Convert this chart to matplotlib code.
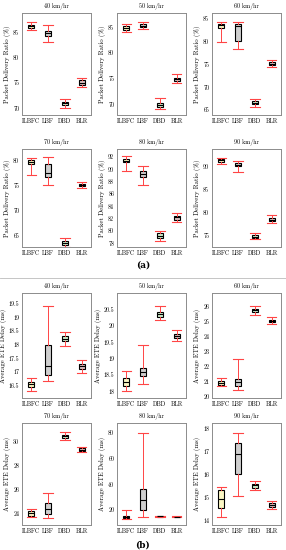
import numpy as np
import matplotlib
matplotlib.use('Agg')
import matplotlib.pyplot as plt
from matplotlib.lines import Line2D

plt.rcParams['font.family'] = ['cmr10', 'DejaVu Serif']
plt.rcParams['axes.formatter.use_mathtext'] = True
plt.rcParams['mathtext.fontset'] = 'cm'

protocols = ['ILBFC', 'LBF', 'DBD', 'BLR']
speeds = ['40 km/hr', '50 km/hr', '60 km/hr', '70 km/hr', '80 km/hr', '90 km/hr']

# packet delivery ratio (%) : [whislo, q1, med, q3, whishi] per protocol
pdr_40 = [[85.4, 85.9, 86.2, 86.5, 87.0], [83.1, 84.2, 84.8, 85.2, 86.4],
          [70.0, 70.6, 71.0, 71.3, 71.8], [74.2, 74.6, 75.0, 75.5, 75.9]]
pdr_50 = [[84.0, 84.5, 84.9, 85.3, 85.7], [84.6, 85.0, 85.3, 85.6, 86.1],
          [69.0, 69.5, 69.9, 70.3, 71.3], [74.2, 74.6, 74.9, 75.2, 75.9]]
pdr_60 = [[79.8, 83.0, 83.5, 83.7, 84.3], [78.3, 80.0, 83.4, 83.7, 84.3],
          [65.7, 66.2, 66.6, 66.9, 67.5], [74.3, 74.8, 75.1, 75.5, 75.9]]
pdr_70 = [[77.2, 79.3, 79.8, 80.1, 80.5], [75.1, 76.7, 77.6, 79.3, 80.7],
          [62.5, 63.1, 63.5, 63.8, 64.5], [74.6, 74.9, 75.2, 75.4, 75.7]]
pdr_80 = [[89.8, 91.2, 91.4, 91.6, 92.1], [87.5, 88.8, 89.3, 89.7, 90.6],
          [78.3, 78.9, 79.2, 79.6, 80.0], [81.4, 81.8, 82.2, 82.4, 82.9]]
pdr_90 = [[90.6, 91.1, 91.5, 91.7, 92.0], [89.0, 90.1, 90.5, 90.9, 91.2],
          [74.3, 74.5, 74.8, 75.1, 75.7], [77.8, 78.2, 78.5, 78.9, 79.5]]

# average ETE delay (ms)
ete_40 = [[16.32, 16.46, 16.55, 16.64, 16.78], [16.66, 16.90, 17.22, 18.00, 19.40],
          [17.93, 18.12, 18.22, 18.32, 18.44], [16.98, 17.12, 17.22, 17.30, 17.45]]
ete_50 = [[18.00, 18.18, 18.30, 18.42, 18.63], [18.23, 18.47, 18.58, 18.70, 19.43],
          [20.18, 20.28, 20.36, 20.43, 20.60], [19.53, 19.63, 19.70, 19.75, 19.88]]
ete_60 = [[20.68, 20.78, 20.88, 21.00, 21.20], [20.45, 20.72, 20.98, 21.15, 22.52],
          [25.43, 25.60, 25.71, 25.82, 26.04], [24.82, 24.93, 25.04, 25.10, 25.26]]
ete_70 = [[23.70, 23.77, 24.00, 24.20, 24.34], [23.58, 23.94, 24.34, 24.85, 25.70],
          [30.14, 30.34, 30.48, 30.62, 30.82], [29.18, 29.27, 29.35, 29.50, 29.58]]
ete_80 = [[13.3, 14.0, 14.5, 15.0, 20.0], [14.8, 20.0, 27.8, 36.2, 80.0],
          [14.5, 14.7, 15.0, 15.2, 15.3], [14.3, 14.5, 14.7, 14.9, 15.1]]
ete_90 = [[14.18, 14.57, 14.94, 15.33, 15.47], [15.10, 16.04, 16.90, 17.38, 17.82],
          [15.33, 15.44, 15.54, 15.62, 15.72], [14.52, 14.61, 14.68, 14.76, 14.86]]

pdr_data = [pdr_40, pdr_50, pdr_60, pdr_70, pdr_80, pdr_90]
ete_data = [ete_40, ete_50, ete_60, ete_70, ete_80, ete_90]

pdr_ylim = [(68.7, 88.8), (67.9, 87.8), (63.9, 86.2), (62.6, 82.4), (77.4, 93.3), (72.6, 93.9)]
pdr_ticks = [[70, 75, 80, 85], [70, 75, 80, 85], [65, 70, 75, 80, 85], [65, 70, 75, 80],
             [78, 80, 82, 84, 86, 88, 90, 92], [75, 80, 85, 90]]
ete_ylim = [(16.05, 19.88), (17.8, 21.0), (19.9, 26.87), (23.0, 31.6), (8.3, 87.8), (13.82, 18.25)]
ete_ticks = [[16.5, 17, 17.5, 18, 18.5, 19, 19.5], [18, 18.5, 19, 19.5, 20, 20.5],
             [20, 21, 22, 23, 24, 25, 26], [24, 26, 28, 30], [20, 40, 60, 80],
             [14, 15, 16, 17, 18]]

box_colors = ['#fbf7c4', '#cfcfcf', '#cfeccc', '#dcbfc0']

W, H = 286, 550
fig = plt.figure(figsize=(W / 100, H / 100), dpi=100)

col_left = [22, 117, 212]
ax_w = 69
row_px = [(13, 115), (149, 247), (293, 398), (423, 525)]


def fmt(v):
    return ('%g' % v)


def draw_panel(ax, stats_list, title, ylabel, ylim, ticks):
    stats = []
    for name, s in zip(protocols, stats_list):
        stats.append(dict(label=name, whislo=s[0], q1=s[1], med=s[2], q3=s[3], whishi=s[4], fliers=[]))
    bp = ax.bxp(stats, widths=0.34, capwidths=0.55, patch_artist=True, showfliers=False,
                boxprops=dict(edgecolor='black', linewidth=0.8),
                medianprops=dict(color='black', linewidth=0.8),
                whiskerprops=dict(color='#ff4545', linewidth=0.7),
                capprops=dict(color='#ff4545', linewidth=0.8))
    for patch, c in zip(bp['boxes'], box_colors):
        patch.set_facecolor(c)
    ax.set_xlim(0.45, 4.55)
    ax.set_ylim(*ylim)
    ax.set_yticks(ticks)
    ax.set_yticklabels([fmt(t) for t in ticks])
    ax.set_title(title, fontsize=4.4, pad=3.5)
    ax.set_ylabel(ylabel, fontsize=4.8, labelpad=1.5)
    ax.tick_params(axis='both', labelsize=4.3, length=0, pad=2)
    for sp in ax.spines.values():
        sp.set_color('#8c8c8c')
        sp.set_linewidth(0.7)


for i in range(6):
    r, c = divmod(i, 3)
    top, bot = row_px[r]
    ax = fig.add_axes([col_left[c] / W, 1 - bot / H, ax_w / W, (bot - top) / H])
    draw_panel(ax, pdr_data[i], speeds[i], 'Packet Delivery Ratio (%)', pdr_ylim[i], pdr_ticks[i])

for i in range(6):
    r, c = divmod(i, 3)
    top, bot = row_px[r + 2]
    ax = fig.add_axes([col_left[c] / W, 1 - bot / H, ax_w / W, (bot - top) / H])
    draw_panel(ax, ete_data[i], speeds[i], 'Average ETE Delay (ms)', ete_ylim[i], ete_ticks[i])

fig.text(0.5, 1 - 265 / H, '(a)', ha='center', va='center', fontsize=6.5, fontweight='bold',
         family='DejaVu Serif')
fig.text(0.5, 1 - 545 / H, '(b)', ha='center', va='center', fontsize=6.5, fontweight='bold',
         family='DejaVu Serif')
fig.add_artist(Line2D([0.0, 1.0], [1 - 278 / H, 1 - 278 / H], color='#bbbbbb', linewidth=0.6))

fig.savefig('out.png', dpi=100)
